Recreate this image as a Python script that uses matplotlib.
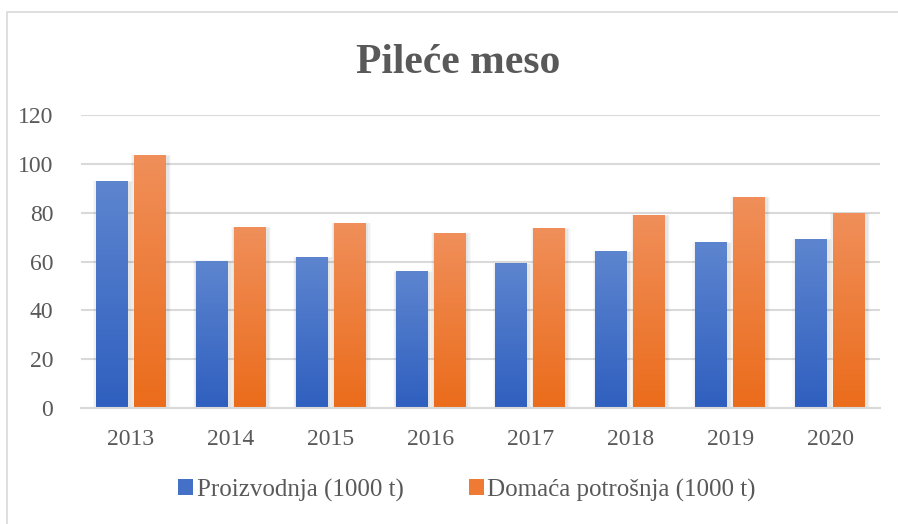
import numpy as np
import matplotlib
matplotlib.use("Agg")
import matplotlib.pyplot as plt
from matplotlib.colors import LinearSegmentedColormap
from matplotlib.patches import Rectangle, Patch

# podaci
years = ["2013", "2014", "2015", "2016", "2017", "2018", "2019", "2020"]
proizvodnja = [92.6, 60.2, 61.5, 55.7, 59.0, 63.9, 67.6, 68.9]
potrosnja = [103.3, 73.8, 75.4, 71.3, 73.4, 78.7, 86.1, 79.5]
labels = ["Proizvodnja (1000 t)", "Domaća potrošnja (1000 t)"]
yticks = [0, 20, 40, 60, 80, 100, 120]

plt.rcParams['font.family'] = ['Liberation Serif', 'DejaVu Serif']
txt = "#595959"
grid_c = "#d9d9d9"

# gradijenti (dno -> vrh)
blue_cm = LinearSegmentedColormap.from_list("b", ["#2f5fbf", "#5d85cf"])
orange_cm = LinearSegmentedColormap.from_list("o", ["#eb6c1b", "#f08f5a"])
grad = np.linspace(0, 1, 256).reshape(-1, 1)

fig = plt.figure(figsize=(8.98, 5.24), dpi=100)
ax = fig.add_axes([81/898, 1 - 408/524, (880 - 81)/898, (408 - 115)/524])

# okvir oko grafikona
fig.patches.append(Rectangle((7/898, -0.1), 1.2, 1 - 12/524 + 0.1,
                             transform=fig.transFigure, fill=False,
                             edgecolor=grid_c, linewidth=1.2))

x = np.arange(len(years))
w = 0.32
off = 0.19


def draw_bar(xc, h, cmap):
    x0, x1 = xc - w/2, xc + w/2
    # meka sjena
    for k, a in [(0.04, 0.025), (0.028, 0.035), (0.016, 0.045)]:
        ax.add_patch(Rectangle((x0 - k + 0.012, -1), w + 2*k, h + 1 + k*6,
                               facecolor="black", alpha=a, edgecolor="none",
                               zorder=2))
    ax.imshow(grad, extent=[x0, x1, 0, h], aspect='auto', cmap=cmap,
              origin='lower', zorder=3, interpolation='bilinear')


for i in range(len(years)):
    draw_bar(x[i] - off, proizvodnja[i], blue_cm)
    draw_bar(x[i] + off, potrosnja[i], orange_cm)

ax.set_xlim(-0.5, len(years) - 0.5)
ax.set_ylim(0, 120)
ax.set_yticks(yticks)
ax.set_xticks(x)
ax.set_xticklabels(years)
ax.yaxis.grid(True, color=grid_c, linewidth=1.5, zorder=0)
ax.set_axisbelow(True)
for s in ["top", "right", "left"]:
    ax.spines[s].set_visible(False)
ax.spines["bottom"].set_color(grid_c)
ax.spines["bottom"].set_linewidth(1.5)
ax.spines["bottom"].set_zorder(4)
ax.tick_params(axis='both', length=0, labelsize=17, colors=txt)
ax.tick_params(axis='y', pad=20)
ax.tick_params(axis='x', pad=15)

fig.text(458/898, 1 - 73/524, "Pileće meso", ha="center", va="baseline",
         fontsize=30, fontweight="bold", color=txt)

handles = [Patch(facecolor="#4570c8", edgecolor="none"),
           Patch(facecolor="#ee7a34", edgecolor="none")]
fig.legend(handles, labels, loc="lower center", bbox_to_anchor=(467/898, 0.0),
           ncol=2, frameon=False, fontsize=18, labelcolor=txt,
           handlelength=0.6, handleheight=0.6, handletextpad=0.15,
           columnspacing=2.6)

fig.savefig("out.png", dpi=100)
